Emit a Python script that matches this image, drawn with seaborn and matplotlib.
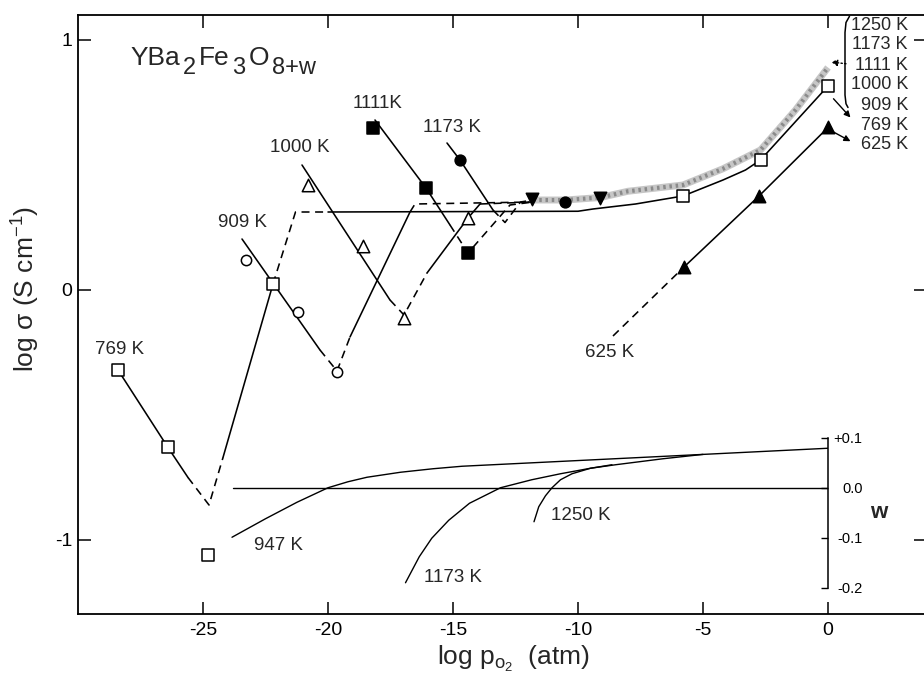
import matplotlib
matplotlib.use("Agg")
import matplotlib.pyplot as plt
import seaborn as sns

# ---------------- data ----------------
# log sigma isotherms: polyline points + segment styles (S = solid, D = dashed)
t769_x = [-28.4, -26.4, -25.6, -24.76, -24.2, -22.2, -21.3, -20.0, -10.0, -9.4, -7.7, -5.8, -4.2, -3.3, -2.7, 0.0]
t769_y = [-0.32, -0.63, -0.75, -0.86, -0.67, 0.024, 0.312, 0.312, 0.315, 0.324, 0.344, 0.376, 0.44, 0.48, 0.52, 0.816]
t769_seg = "SSDDSDDSSSSSSSS"

t909_x = [-23.44, -20.32, -19.64, -19.12, -16.72, -16.52, -11.8]
t909_y = [0.204, -0.24, -0.324, -0.188, 0.312, 0.344, 0.352]
t909_seg = "SDDSDD"

t1000_x = [-21.04, -17.52, -16.96, -16.04, -14.4, -13.92, -11.8]
t1000_y = [0.50, -0.04, -0.10, 0.068, 0.288, 0.344, 0.352]
t1000_seg = "SDDSSD"

t1111_x = [-18.12, -16.08, -15.12, -14.4, -12.72, -11.8]
t1111_y = [0.68, 0.408, 0.26, 0.148, 0.34, 0.352]
t1111_seg = "SSDDD"

t1173_x = [-15.24, -14.72, -13.4, -12.92, -12.3, -11.8]
t1173_y = [0.588, 0.52, 0.32, 0.27, 0.352, 0.36]
t1173_seg = "SSDDD"

t625_x = [-8.6, -5.76, -2.76, 0.0]
t625_y = [-0.184, 0.092, 0.376, 0.65]
t625_seg = "DSS"

band_x = [-11.8, -10.5, -9.1, -8.0, -5.8, -4.2, -2.7, -1.3, 0.0]
band_y = [0.36, 0.36, 0.37, 0.395, 0.42, 0.485, 0.56, 0.72, 0.89]

# markers
m769_x = [-28.4, -26.4, -22.2, -5.8, -2.7, 0.0, -24.8]
m769_y = [-0.32, -0.63, 0.024, 0.376, 0.52, 0.816, -1.06]
m909_x = [-23.3, -21.2, -19.64]
m909_y = [0.12, -0.09, -0.33]
m1000_x = [-20.8, -18.6, -16.96, -14.4]
m1000_y = [0.42, 0.176, -0.112, 0.288]
m1111_x = [-18.2, -16.08, -14.4]
m1111_y = [0.648, 0.408, 0.148]
m1173_x = [-14.72, -10.52]
m1173_y = [0.52, 0.352]
m1250_x = [-11.84, -9.12]
m1250_y = [0.364, 0.368]
m625_x = [-5.76, -2.76, 0.0]
m625_y = [0.092, 0.376, 0.65]

# oxygen non-stoichiometry w (inset scale)
w_zero_x = [-23.8, 0.0]
w_zero_y = [0.0, 0.0]
w947_x = [-23.84, -22.5, -21.24, -20.0, -19.2, -18.44, -17.1, -15.8, -14.64, -10.0, -5.0, 0.0]
w947_y = [-0.099, -0.062, -0.029, 0.0, 0.012, 0.021, 0.031, 0.038, 0.043, 0.0544, 0.0667, 0.079]
w1173_x = [-16.9, -16.35, -15.85, -15.17, -14.34, -13.1, -11.85, -10.7, -9.5, -8.5, -6.6, -5.0]
w1173_y = [-0.19, -0.138, -0.101, -0.065, -0.031, 0.0, 0.016, 0.028, 0.039, 0.046, 0.058, 0.0667]
w1250_x = [-11.76, -11.57, -11.3, -11.04, -10.7, -10.24, -9.5, -8.64]
w1250_y = [-0.068, -0.038, -0.016, 0.0, 0.016, 0.028, 0.039, 0.046]

x_ticks = [-25, -20, -15, -10, -5, 0]
y_ticks = [-1, 0, 1]
w_ticks = [-0.2, -0.1, 0.0, 0.1]
w_tick_labels = ["-0.2", "-0.1", "0.0", "+0.1"]
legend_labels = ["1250 K", "1173 K", "1111 K", "1000 K", "909 K", "769 K", "625 K"]
title_parts = [("YBa", False), ("2", True), ("Fe", False), ("3", True), ("O", False), ("8+w", True)]

# ---------------- style ----------------
sns.set_theme(style="ticks")
plt.rcParams["font.family"] = ["Liberation Sans", "DejaVu Sans"]
plt.rcParams["mathtext.fontset"] = "custom"
plt.rcParams["mathtext.rm"] = "Liberation Sans"
plt.rcParams["mathtext.it"] = "Liberation Sans:italic"
plt.rcParams["mathtext.bf"] = "Liberation Sans:bold"
plt.rcParams["axes.unicode_minus"] = False

W, H = 924, 681
fig = plt.figure(figsize=(W / 100, H / 100), dpi=100)
ax = fig.add_axes([78 / W, 67 / H, (926 - 78) / W, 599 / H])
ax.set_facecolor("white")

LW = 1.15
DASH = (0, (5, 3.5))


def draw_polyline(xs, ys, segs):
    i, n = 0, len(segs)
    while i < n:
        j = i
        while j < n and segs[j] == segs[i]:
            j += 1
        ls = "-" if segs[i] == "S" else DASH
        sns.lineplot(x=xs[i:j + 1], y=ys[i:j + 1], ax=ax, sort=False, estimator=None,
                     color="black", lw=LW, linestyle=ls, zorder=3)
        i = j


# stippled band (higher temperatures)
sns.lineplot(x=band_x, y=band_y, ax=ax, sort=False, estimator=None,
             color="#c6c6c6", lw=5.0, zorder=2, solid_capstyle="butt")
sns.lineplot(x=band_x, y=band_y, ax=ax, sort=False, estimator=None,
             color="#8a8a8a", lw=3.0, zorder=2, linestyle=(0, (0.6, 0.9)))

for xs, ys, sg in [(t769_x, t769_y, t769_seg), (t909_x, t909_y, t909_seg),
                   (t1000_x, t1000_y, t1000_seg), (t1111_x, t1111_y, t1111_seg),
                   (t1173_x, t1173_y, t1173_seg), (t625_x, t625_y, t625_seg)]:
    draw_polyline(xs, ys, sg)

mk = dict(ax=ax, edgecolor="black", linewidth=1.1, zorder=5, legend=False)
sns.scatterplot(x=m769_x, y=m769_y, marker="s", s=70, color="white", **mk)
sns.scatterplot(x=m909_x, y=m909_y, marker="o", s=55, color="white", **mk)
sns.scatterplot(x=m1000_x, y=m1000_y, marker="^", s=80, color="white", **mk)
sns.scatterplot(x=m1111_x, y=m1111_y, marker="s", s=65, color="black", **mk)
sns.scatterplot(x=m1173_x, y=m1173_y, marker="o", s=60, color="black", **mk)
sns.scatterplot(x=m1250_x, y=m1250_y, marker="v", s=80, color="black", **mk)
sns.scatterplot(x=m625_x, y=m625_y, marker="^", s=80, color="black", **mk)

ax.set_xlim(-30, 3.92)
ax.set_ylim(-1.296, 1.1)
ax.set_xticks(x_ticks)
ax.set_yticks(y_ticks)
ax.tick_params(axis="both", direction="in", top=True, right=True, length=9,
               width=1.1, labelsize=14, colors="black")
ax.tick_params(axis="x", pad=6)
ax.tick_params(axis="y", pad=4)
for sp in ax.spines.values():
    sp.set_linewidth(1.3)
    sp.set_color("black")
ax.set_xlabel("")
ax.set_ylabel("")

# axis labels
fig.text(513 / W, 1 - 665 / H, r"log p$_{\mathrm{o}_2}$  (atm)", fontsize=19,
         ha="center", va="baseline")
fig.text(26 / W, 1 - 289 / H, r"log σ (S cm$^{-1}$)", fontsize=19,
         ha="center", va="center", rotation=90)

# title with large subscripts
renderer = fig.canvas.get_renderer()
cur = 130.0
for txt, sub in title_parts:
    size = 17 if sub else 19
    base = 74 if sub else 65
    t = fig.text(cur / W, 1 - base / H, txt, fontsize=size, ha="left", va="baseline")
    cur += t.get_window_extent(renderer).width + 3

# isotherm labels
lab = dict(fontsize=13.5, ha="center", va="center")
ax.text(-28.32, -0.24, "769 K", **lab)
ax.text(-23.4, 0.268, "909 K", **lab)
ax.text(-21.12, 0.568, "1000 K", **lab)
ax.text(-18.0, 0.748, "1111K", **lab)
ax.text(-15.04, 0.648, "1173 K", **lab)
ax.text(-8.72, -0.252, "625 K", **lab)
ax.text(-21.96, -1.024, "947 K", **lab)
ax.text(-15.0, -1.148, "1173 K", **lab)
ax.text(-9.88, -0.90, "1250 K", **lab)

# right-hand legend list
for k, txt in enumerate(legend_labels):
    ax.text(3.2, 1.06 - 0.08 * k, txt, fontsize=13, ha="right", va="center")
# bracket
ax.plot([0.86, 0.72, 0.68, 0.68, 0.72, 0.80], [1.095, 1.07, 1.03, 0.78, 0.745, 0.73],
        color="black", lw=1.1, clip_on=False, zorder=4)
# arrows
ax.annotate("", xy=(0.12, 0.912), xytext=(0.72, 0.905),
            arrowprops=dict(arrowstyle="-|>", lw=1.0, ls=":", color="black",
                            mutation_scale=9, shrinkA=0, shrinkB=0))
ax.annotate("", xy=(0.9, 0.69), xytext=(0.22, 0.765),
            arrowprops=dict(arrowstyle="-|>", lw=1.0, color="black",
                            mutation_scale=9, shrinkA=0, shrinkB=0))
ax.annotate("", xy=(0.9, 0.595), xytext=(0.22, 0.632),
            arrowprops=dict(arrowstyle="-|>", lw=1.0, color="black",
                            mutation_scale=9, shrinkA=0, shrinkB=0))

# ---------------- inset: w vs log pO2 ----------------
axin = ax.inset_axes([-30, -0.791 - 0.4, 30, 0.6], transform=ax.transData)
axin.patch.set_alpha(0)
axin.set_xlim(-30, 0)
axin.set_ylim(-0.2, 0.1)
for name in ["left", "top", "bottom"]:
    axin.spines[name].set_visible(False)
axin.spines["right"].set_linewidth(1.1)
axin.spines["right"].set_color("black")
axin.set_xticks([])
axin.set_yticks(w_ticks, labels=w_tick_labels)
axin.tick_params(axis="y", left=False, right=True, labelleft=False, labelright=True,
                 direction="in", length=5, width=1.0, pad=25, labelsize=10.5, colors="black")
plt.setp(axin.get_yticklabels(), ha="right")

for xs, ys in [(w_zero_x, w_zero_y), (w947_x, w947_y), (w1173_x, w1173_y), (w1250_x, w1250_y)]:
    sns.lineplot(x=xs, y=ys, ax=axin, sort=False, estimator=None, color="black", lw=1.0)
axin.set_xlabel("")
axin.set_ylabel("")
ax.text(2.04, -0.892, "w", fontsize=16, fontweight="bold", ha="center", va="center")

fig.savefig("out.png", dpi=100)
